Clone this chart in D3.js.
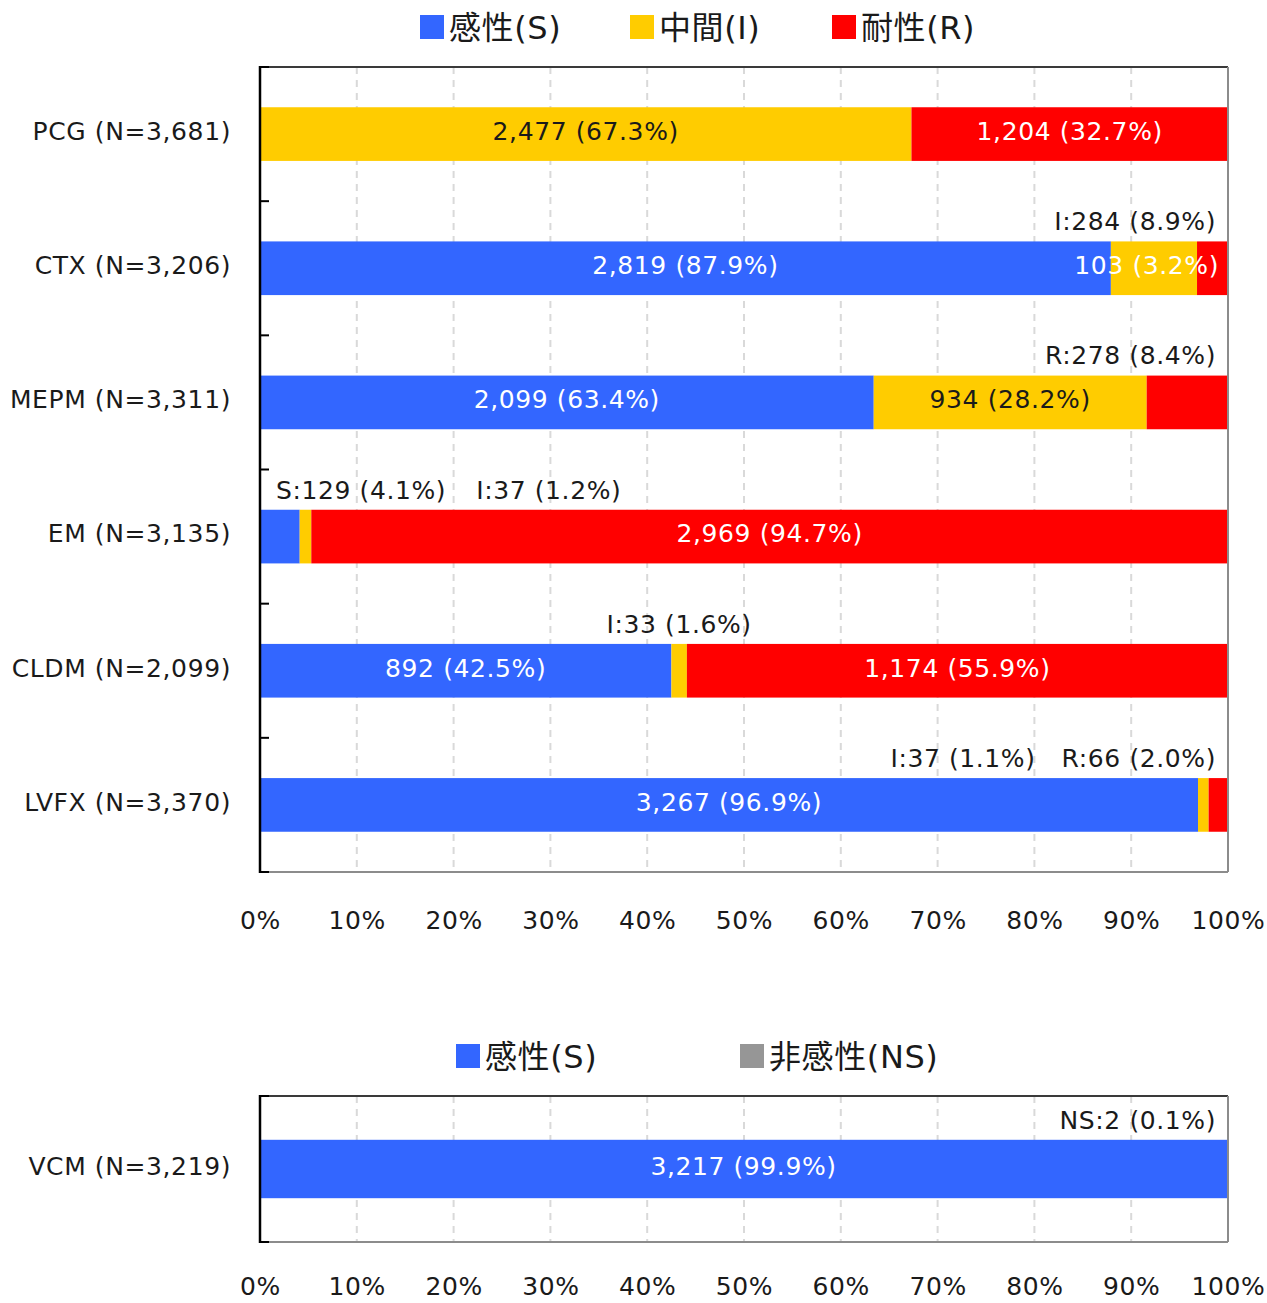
<!DOCTYPE html>
<html>
<head>
<meta charset="utf-8">
<script src="https://cdn.jsdelivr.net/npm/d3@7"></script>
<style>
  body { margin: 0; background: #fff; }
  svg text { font-family: "DejaVu Sans", "Noto Sans CJK JP", sans-serif; fill: #1a1a1a; letter-spacing: 0.6px; }
</style>
</head>
<body>
<svg id="chart"></svg>
<script>
// ---- data ----
const drugs   = ["PCG", "CTX", "MEPM", "EM", "CLDM", "LVFX"];
const totals  = [3681, 3206, 3311, 3135, 2099, 3370];
const sCounts = [0, 2819, 2099, 129, 892, 3267];
const iCounts = [2477, 284, 934, 37, 33, 37];
const rCounts = [1204, 103, 278, 2969, 1174, 66];
const sPct    = [0, 87.9, 63.4, 4.1, 42.5, 96.9];
const iPct    = [67.3, 8.9, 28.2, 1.2, 1.6, 1.1];
const rPct    = [32.7, 3.2, 8.4, 94.7, 55.9, 2.0];
// where each label goes: in = centred in segment, end = right end of bar,
// topL / topC / topR = above the bar, left / centred / right
const sPlace  = [null, "in", "in", "topL", "in", "in"];
const iPlace  = ["in", "topR", "in", "topL", "topC", "topR"];
const rPlace  = ["in", "end", "topR", "in", "in", "topR"];

const vcmDrugs  = ["VCM"];
const vcmTotals = [3219];
const vcmS      = [3217];
const vcmSPct   = [99.9];
const vcmNS     = [2];
const vcmNSPct  = [0.1];
const vcmSPlace  = ["in"];
const vcmNSPlace = ["topR"];

const tickValues = [0, 10, 20, 30, 40, 50, 60, 70, 80, 90, 100];

const topLegend = ["感性(S)", "中間(I)", "耐性(R)"];
const botLegend = ["感性(S)", "非感性(NS)"];

const colors = { S: "#3366ff", I: "#ffcc00", R: "#ff0000", NS: "#969696" };

// ---- setup ----
const W = 1267, H = 1303;
const FS = 25;
const svg = d3.select("#chart").attr("width", W).attr("height", H);
const fmt = d3.format(",");
const x = d3.scaleLinear().domain([0, 100]).range([260, 1228]);

function buildRows(cats, tot, series) {
  return cats.map((c, i) => {
    let acc = 0;
    const segs = [];
    series.forEach(s => {
      const p = s.pct[i];
      segs.push({ key: s.key, count: s.count[i], pct: p, x0: acc, x1: acc + p, place: s.place[i] });
      acc += p;
    });
    return { cat: c, total: tot[i], segs: segs };
  });
}

function drawPanel(rows, y0, y1, tickPad) {
  const g = svg.append("g");
  const y = d3.scaleBand().domain(rows.map(d => d.cat)).range([y0, y1])
    .paddingInner(0.6).paddingOuter(0.3);

  // dashed grid
  g.append("g").selectAll("line")
    .data(tickValues.filter(v => v > 0 && v < 100))
    .join("line")
    .attr("x1", d => x(d)).attr("x2", d => x(d))
    .attr("y1", y0).attr("y2", y1)
    .attr("stroke", "#d9d9d9").attr("stroke-width", 2)
    .attr("stroke-dasharray", "7,6");

  // bars
  const row = g.append("g").selectAll("g").data(rows).join("g");
  row.selectAll("rect")
    .data(d => d.segs.filter(s => s.pct > 0).map(s => Object.assign({ cat: d.cat }, s)))
    .join("rect")
    .attr("x", d => x(d.x0))
    .attr("width", d => x(d.x1) - x(d.x0))
    .attr("y", d => y(d.cat))
    .attr("height", y.bandwidth())
    .attr("fill", d => colors[d.key]);

  // frame
  g.append("line").attr("x1", x(0)).attr("x2", x(100)).attr("y1", y0).attr("y2", y0)
    .attr("stroke", "#3a3a3a").attr("stroke-width", 2);
  g.append("line").attr("x1", x(100)).attr("x2", x(100)).attr("y1", y0).attr("y2", y1)
    .attr("stroke", "#8c8c8c").attr("stroke-width", 2);
  g.append("line").attr("x1", x(0)).attr("x2", x(100)).attr("y1", y1).attr("y2", y1)
    .attr("stroke", "#8c8c8c").attr("stroke-width", 2);
  g.append("line").attr("x1", x(0)).attr("x2", x(0)).attr("y1", y0 - 1).attr("y2", y1 + 1)
    .attr("stroke", "#000").attr("stroke-width", 2.5);
  const step = y.step();
  g.append("g").selectAll("line")
    .data(d3.range(rows.length + 1))
    .join("line")
    .attr("x1", x(0)).attr("x2", x(0) + 9)
    .attr("y1", i => y0 + i * step).attr("y2", i => y0 + i * step)
    .attr("stroke", "#000").attr("stroke-width", 2);

  // category labels
  g.append("g").selectAll("text").data(rows).join("text")
    .attr("x", 231)
    .attr("y", d => y(d.cat) + y.bandwidth() / 2 - 3)
    .attr("dy", "0.35em")
    .attr("text-anchor", "end")
    .attr("font-size", FS)
    .text(d => `${d.cat} (N=${fmt(d.total)})`);

  // value labels
  rows.forEach(r => {
    const cy = y(r.cat) + y.bandwidth() / 2 - 3;
    const top = y(r.cat) - 20;
    const left = [], right = [];
    r.segs.forEach(s => {
      if (!s.place) return;
      if (s.place === "in" || s.place === "end") {
        g.append("text")
          .attr("x", s.place === "in" ? x((s.x0 + s.x1) / 2) : x(100) - 9)
          .attr("y", cy).attr("dy", "0.35em")
          .attr("text-anchor", s.place === "in" ? "middle" : "end")
          .attr("font-size", FS)
          .style("fill", s.key === "I" ? "#1a1a1a" : "#fff")
          .text(`${fmt(s.count)} (${s.pct.toFixed(1)}%)`);
      } else {
        const t = g.append("text")
          .attr("y", top).attr("dy", "0.35em")
          .attr("font-size", FS)
          .text(`${s.key}:${fmt(s.count)} (${s.pct.toFixed(1)}%)`);
        const w = t.node().getComputedTextLength();
        if (s.place === "topC") {
          t.attr("x", x((s.x0 + s.x1) / 2) - w / 2);
        } else if (s.place === "topL") {
          left.push({ t, w, s });
        } else {
          right.push({ t, w, s });
        }
      }
    });
    let cx = left.length ? x(left[0].s.x0) + 16 : 0;
    left.forEach(o => { o.t.attr("x", cx); cx += o.w + 30; });
    let ex = x(100) - 12;
    right.slice().reverse().forEach(o => { o.t.attr("x", ex - o.w); ex -= o.w + 26; });
  });

  // x axis
  const ax = g.append("g")
    .attr("transform", `translate(0,${y1})`)
    .call(d3.axisBottom(x).tickValues(tickValues).tickFormat(d => d + "%").tickSize(0).tickPadding(tickPad));
  ax.select(".domain").remove();
  ax.selectAll("text").attr("font-size", FS).attr("font-family", null).style("fill", "#1a1a1a");
  return g;
}

function drawLegend(labels, keys, startXs, cy) {
  const g = svg.append("g");
  labels.forEach((l, i) => {
    g.append("rect").attr("x", startXs[i]).attr("y", cy - 12).attr("width", 24).attr("height", 24)
      .attr("fill", colors[keys[i]]);
    g.append("text").attr("x", startXs[i] + 29).attr("y", cy).attr("dy", "0.36em")
      .attr("font-size", 32).text(l);
  });
}

const topRows = buildRows(drugs, totals, [
  { key: "S", count: sCounts, pct: sPct, place: sPlace },
  { key: "I", count: iCounts, pct: iPct, place: iPlace },
  { key: "R", count: rCounts, pct: rPct, place: rPlace }
]);
const botRows = buildRows(vcmDrugs, vcmTotals, [
  { key: "S", count: vcmS, pct: vcmSPct, place: vcmSPlace },
  { key: "NS", count: vcmNS, pct: vcmNSPct, place: vcmNSPlace }
]);

drawLegend(topLegend, ["S", "I", "R"], [420, 630, 832], 27);
drawPanel(topRows, 67, 872, 39);
drawLegend(botLegend, ["S", "NS"], [456, 740], 1056);
drawPanel(botRows, 1096, 1242, 35);
</script>
</body>
</html>
